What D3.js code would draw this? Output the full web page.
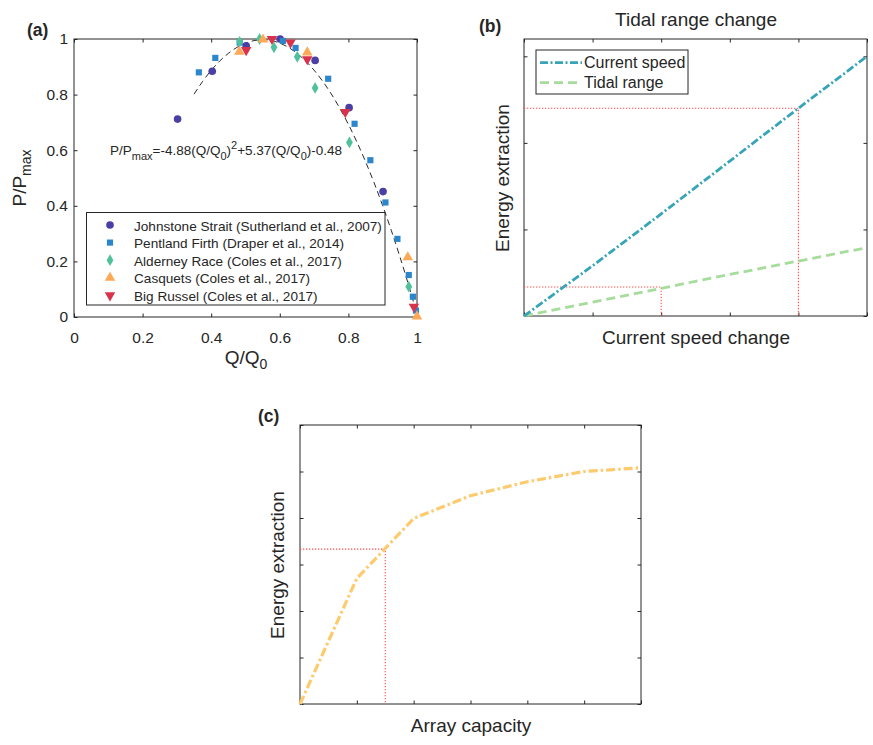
<!DOCTYPE html>
<html><head><meta charset="utf-8">
<script src="https://cdn.jsdelivr.net/npm/d3@7"></script>
<style>
body{margin:0;background:#fff}
svg{display:block}
text{font-family:"Liberation Sans",Arial,Helvetica,sans-serif;fill:#262626}
</style>
</head><body>
<svg id="chart" width="873" height="745"></svg>
<script>
// ---------- Panel (a) data ----------
const seriesNames = [
  "Johnstone Strait (Sutherland et al., 2007)",
  "Pentland Firth (Draper et al., 2014)",
  "Alderney Race (Coles et al., 2017)",
  "Casquets (Coles et al., 2017)",
  "Big Russel (Coles et al., 2017)"
];
const seriesColors = ["#4a3fa3", "#2b86cc", "#4fc19c", "#fea957", "#d8334a"];
const seriesSymbols = ["circle", "square", "diamond", "triangle", "triangleDown"];

const johnstoneQ = [0.302, 0.403, 0.502, 0.601, 0.703, 0.802, 0.901];
const johnstoneP = [0.712, 0.884, 0.975, 1.000, 0.923, 0.753, 0.451];
const pentlandQ = [0.364, 0.412, 0.483, 0.609, 0.646, 0.741, 0.818, 0.864, 0.908, 0.943, 0.976, 0.988, 0.997];
const pentlandP = [0.880, 0.932, 0.987, 0.993, 0.968, 0.857, 0.695, 0.564, 0.412, 0.281, 0.151, 0.073, 0.023];
const alderneyQ = [0.483, 0.541, 0.583, 0.651, 0.703, 0.803, 0.976];
const alderneyP = [0.990, 1.000, 0.970, 0.936, 0.824, 0.628, 0.109];
const casquetsQ = [0.482, 0.551, 0.680, 0.973, 1.000];
const casquetsP = [0.954, 0.998, 0.952, 0.215, 0.002];
const russelQ = [0.502, 0.577, 0.631, 0.680, 0.791, 0.991];
const russelP = [0.960, 1.000, 0.987, 0.927, 0.737, 0.037];

const fitCoefficients = [-4.88, 5.37, -0.48]; // P = a Q^2 + b Q + c
const fitQ = [0.35,0.375,0.40,0.425,0.45,0.475,0.50,0.525,0.55,0.575,0.60,0.625,0.65,0.675,0.70,0.725,0.75,0.775,0.80,0.825,0.85,0.875,0.90,0.925,0.95,0.975,1.00];

const ticksA = [0, 0.2, 0.4, 0.6, 0.8, 1];
const tickLabelsA = ["0", "0.2", "0.4", "0.6", "0.8", "1"];

// ---------- Panel (b) data ----------
const speedChange = [0, 1, 2, 3, 4, 5];
const currentSpeedEnergy = [0, 0.58, 1.18, 1.79, 2.40, 3.00];
const tidalRangeEnergy = [0, 0.16, 0.32, 0.48, 0.635, 0.79];
const guideB = [{x: 4, y: 2.40}, {x: 2, y: 0.335}];
const ticksBx = [0, 1, 2, 3, 4, 5];
const ticksBy = [0, 1, 2, 3];

// ---------- Panel (c) data ----------
const arrayCapacity = [0, 1, 2, 3, 4, 5, 6];
const arrayEnergy = [0, 2.70, 3.99, 4.48, 4.78, 5.00, 5.08];
const guideC = [{x: 1.5, y: 3.33}];
const ticksCx = [0, 1, 2, 3, 4, 5, 6];
const ticksCy = [0, 1, 2, 3, 4, 5, 6];

// ---------- drawing ----------
const svg = d3.select("#chart");
const AX = "#262626";
const TL = 3.5;

function frame(g, xs, ys, xt, yt) {
  const [x0, x1] = xs.range(), [y1, y0] = ys.range();
  const mk = (axis, tr) => {
    const a = g.append("g").attr("transform", tr).call(axis);
    a.select(".domain").remove();
    a.selectAll(".tick line").attr("stroke", AX);
    a.selectAll("text").remove();
  };
  mk(d3.axisBottom(xs).tickValues(xt).tickSizeInner(-TL).tickSizeOuter(0), `translate(0,${y1})`);
  mk(d3.axisTop(xs).tickValues(xt).tickSizeInner(-TL).tickSizeOuter(0), `translate(0,${y0})`);
  mk(d3.axisLeft(ys).tickValues(yt).tickSizeInner(-TL).tickSizeOuter(0), `translate(${x0},0)`);
  mk(d3.axisRight(ys).tickValues(yt).tickSizeInner(-TL).tickSizeOuter(0), `translate(${x1},0)`);
  g.append("rect").attr("x", x0).attr("y", y0).attr("width", x1 - x0).attr("height", y1 - y0)
    .attr("fill", "none").attr("stroke", AX).attr("stroke-width", 1);
}

function symbolPath(name, size) {
  if (name === "triangleDown") return d3.symbol(d3.symbolTriangle, size)();
  const m = {circle: d3.symbolCircle, square: d3.symbolSquare, diamond: d3.symbolDiamond, triangle: d3.symbolTriangle};
  return d3.symbol(m[name], size)();
}
const symbolSize = {circle: 46, square: 38, diamond: 40, triangle: 48, triangleDown: 48};
function drawMarker(g, name, color, cx, cy) {
  g.append("path").attr("d", symbolPath(name, symbolSize[name]))
    .attr("transform", `translate(${cx},${cy})` + (name === "triangleDown" ? " rotate(180)" : ""))
    .attr("fill", color).attr("stroke", "none");
}

// ===== Panel (a) =====
{
  const g = svg.append("g");
  const x = d3.scaleLinear().domain([0, 1]).range([74, 417]);
  const y = d3.scaleLinear().domain([0, 1]).range([317, 39]);
  frame(g, x, y, ticksA, ticksA);

  const xa = g.append("g").attr("transform", "translate(0,317)")
    .call(d3.axisBottom(x).tickValues(ticksA).tickFormat((d, i) => tickLabelsA[i]).tickSize(0).tickPadding(15));
  xa.select(".domain").remove();
  xa.selectAll("text").attr("font-size", 15.5).attr("fill", AX).attr("font-family", "Liberation Sans, Arial, sans-serif");
  const ya = g.append("g").attr("transform", "translate(74,0)")
    .call(d3.axisLeft(y).tickValues(ticksA).tickFormat((d, i) => tickLabelsA[i]).tickSize(0).tickPadding(6));
  ya.select(".domain").remove();
  ya.selectAll("text").attr("font-size", 15.5).attr("fill", AX).attr("font-family", "Liberation Sans, Arial, sans-serif");

  // fit curve
  const fitData = fitQ.map(q => ({q, p: fitCoefficients[0] * q * q + fitCoefficients[1] * q + fitCoefficients[2]}));
  g.append("path").datum(fitData)
    .attr("d", d3.line().x(d => x(d.q)).y(d => y(d.p)).curve(d3.curveNatural))
    .attr("fill", "none").attr("stroke", "#2a2a2a").attr("stroke-width", 1)
    .attr("stroke-dasharray", "6,4");

  const allQ = [johnstoneQ, pentlandQ, alderneyQ, casquetsQ, russelQ];
  const allP = [johnstoneP, pentlandP, alderneyP, casquetsP, russelP];
  allQ.forEach((qs, s) => {
    qs.forEach((q, i) => drawMarker(g, seriesSymbols[s], seriesColors[s], x(q), y(allP[s][i])));
  });

  // equation
  const eq = g.append("text").attr("x", 110).attr("y", 155).attr("font-size", 13.5);
  eq.append("tspan").text("P/P");
  eq.append("tspan").attr("font-size", 11).attr("dy", 5).text("max");
  eq.append("tspan").attr("dy", -5).text("=-4.88(Q/Q");
  eq.append("tspan").attr("font-size", 11).attr("dy", 5).text("0");
  eq.append("tspan").attr("dy", -5).text(")");
  eq.append("tspan").attr("font-size", 11).attr("dy", -6).text("2");
  eq.append("tspan").attr("dy", 6).text("+5.37(Q/Q");
  eq.append("tspan").attr("font-size", 11).attr("dy", 5).text("0");
  eq.append("tspan").attr("dy", -5).text(")-0.48");

  // legend
  g.append("rect").attr("x", 86.5).attr("y", 212.5).attr("width", 298.5).attr("height", 92.5)
    .attr("fill", "#fff").attr("stroke", AX).attr("stroke-width", 1);
  seriesNames.forEach((name, i) => {
    const by = 230.5 + i * 17.6;
    drawMarker(g, seriesSymbols[i], seriesColors[i], 110, by - 5.5);
    g.append("text").attr("x", 134).attr("y", by).attr("font-size", 13.6).text(name);
  });

  // axis labels
  const xl = g.append("text").attr("x", 246).attr("y", 364).attr("text-anchor", "middle").attr("font-size", 19);
  xl.append("tspan").text("Q/Q");
  xl.append("tspan").attr("font-size", 14).attr("dy", 5).text("0");
  const yl = g.append("text").attr("transform", "translate(26,178) rotate(-90)").attr("text-anchor", "middle").attr("font-size", 19);
  yl.append("tspan").text("P/P");
  yl.append("tspan").attr("font-size", 14).attr("dy", 5).text("max");

  g.append("text").attr("x", 27).attr("y", 36).attr("font-size", 17.5).attr("font-weight", "bold").text("(a)");
}

// ===== Panel (b) =====
{
  const g = svg.append("g");
  const x = d3.scaleLinear().domain([0, 5]).range([524, 867]);
  const y = d3.scaleLinear().domain([0, 3.2]).range([316, 39]);
  frame(g, x, y, ticksBx, ticksBy);

  const line = d3.line().x(d => x(d[0])).y(d => y(d[1]));
  // guides
  guideB.forEach(gd => {
    g.append("path").attr("d", line([[0, gd.y], [gd.x, gd.y], [gd.x, 0]]))
      .attr("fill", "none").attr("stroke", "#ff4d4d").attr("stroke-width", 1.1).attr("stroke-dasharray", "1.3,1.7");
  });
  g.append("path").attr("d", line(speedChange.map((v, i) => [v, tidalRangeEnergy[i]])))
    .attr("fill", "none").attr("stroke", "#a6dc9c").attr("stroke-width", 2.8).attr("stroke-dasharray", "9,5");
  g.append("path").attr("d", line(speedChange.map((v, i) => [v, currentSpeedEnergy[i]])))
    .attr("fill", "none").attr("stroke", "#37a4b8").attr("stroke-width", 2.8).attr("stroke-dasharray", "8,2.5,2,2.5");

  // legend
  g.append("rect").attr("x", 536).attr("y", 50).attr("width", 152).attr("height", 44)
    .attr("fill", "#fff").attr("stroke", AX).attr("stroke-width", 1);
  const legB = [["Current speed", "#37a4b8", "8,2.5,2,2.5"], ["Tidal range", "#a6dc9c", "9,5"]];
  legB.forEach((l, i) => {
    const ly = 62.7 + i * 20;
    g.append("line").attr("x1", 540).attr("x2", 582).attr("y1", ly).attr("y2", ly)
      .attr("stroke", l[1]).attr("stroke-width", 2.8).attr("stroke-dasharray", l[2]);
    g.append("text").attr("x", 584).attr("y", ly + 5.6).attr("font-size", 16).text(l[0]);
  });

  g.append("text").attr("x", 696).attr("y", 26).attr("text-anchor", "middle").attr("font-size", 19).text("Tidal range change");
  g.append("text").attr("x", 696).attr("y", 344).attr("text-anchor", "middle").attr("font-size", 19).text("Current speed change");
  g.append("text").attr("transform", "translate(509,178) rotate(-90)").attr("text-anchor", "middle").attr("font-size", 19).text("Energy extraction");
  g.append("text").attr("x", 479).attr("y", 32).attr("font-size", 17.5).attr("font-weight", "bold").text("(b)");
}

// ===== Panel (c) =====
{
  const g = svg.append("g");
  const x = d3.scaleLinear().domain([0, 6]).range([300, 641]);
  const y = d3.scaleLinear().domain([0, 6]).range([704, 425]);
  frame(g, x, y, ticksCx, ticksCy);
  const line = d3.line().x(d => x(d[0])).y(d => y(d[1]));
  guideC.forEach(gd => {
    g.append("path").attr("d", line([[0, gd.y], [gd.x, gd.y], [gd.x, 0]]))
      .attr("fill", "none").attr("stroke", "#ff4d4d").attr("stroke-width", 1.1).attr("stroke-dasharray", "1.3,1.7");
  });
  g.append("path").attr("d", line(arrayCapacity.map((v, i) => [v, arrayEnergy[i]])))
    .attr("fill", "none").attr("stroke", "#fdcb6e").attr("stroke-width", 3.2).attr("stroke-dasharray", "9,3,2.5,3");

  g.append("text").attr("x", 471).attr("y", 732).attr("text-anchor", "middle").attr("font-size", 19).text("Array capacity");
  g.append("text").attr("transform", "translate(284,565) rotate(-90)").attr("text-anchor", "middle").attr("font-size", 19).text("Energy extraction");
  g.append("text").attr("x", 258).attr("y", 422).attr("font-size", 17.5).attr("font-weight", "bold").text("(c)");
}
</script>
</body></html>
